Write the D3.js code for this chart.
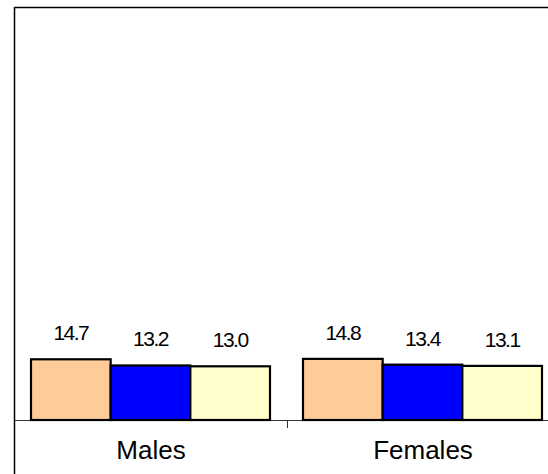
<!DOCTYPE html>
<html>
<head>
<meta charset="utf-8">
<script src="https://cdn.jsdelivr.net/npm/d3@7"></script>
<style>
  html, body { margin: 0; padding: 0; background: #fff; }
  svg { display: block; }
  text { font-family: Arial, "Liberation Sans", sans-serif; fill: #000; }
</style>
</head>
<body>
<svg id="chart" width="548" height="474"></svg>
<script>
// Categories and series
const categories = ["Males", "Females"];
const seriesNames = ["s1", "s2", "s3"];
const seriesColors = ["#FFCC99", "#0000FF", "#FFFFCC"];
const males = [14.7, 13.2, 13.0];
const females = [14.8, 13.4, 13.1];
const valueLabels = [["14.7", "13.2", "13.0"], ["14.8", "13.4", "13.1"]];
const valueDomain = [0, 100];

const rows = categories.map((c, i) => ({
  category: c,
  values: (i === 0 ? males : females).map((v, j) => ({ key: seriesNames[j], value: v, label: valueLabels[i][j] }))
}));

const svg = d3.select("#chart");

const plot = { left: 15, right: 559, top: 7, bottom: 420 };

const x0 = d3.scaleBand().domain(categories).range([plot.left, plot.right]).padding(0);
const x1 = d3.scaleBand().domain(seriesNames).range([16, x0.bandwidth() - 17]).padding(0);
const y = d3.scaleLinear().domain(valueDomain).range([plot.bottom, plot.top]);
const color = d3.scaleOrdinal().domain(seriesNames).range(seriesColors);

// Outer frame (top and left edges visible)
svg.append("line")
  .attr("x1", plot.left - 0.5).attr("x2", 548)
  .attr("y1", plot.top + 0.5).attr("y2", plot.top + 0.5)
  .attr("stroke", "#000").attr("stroke-width", 1.5);
svg.append("line")
  .attr("x1", plot.left - 0.5).attr("x2", plot.left - 0.5)
  .attr("y1", plot.top).attr("y2", 474)
  .attr("stroke", "#000").attr("stroke-width", 1.5);

// Category axis
const xAxis = d3.axisBottom(x0).tickSize(0).tickPadding(16);
const axisG = svg.append("g")
  .attr("transform", `translate(0,${plot.bottom})`)
  .call(xAxis);
axisG.select(".domain").remove();
axisG.selectAll("text")
  .attr("font-size", 26)
  .attr("font-family", "Arial, 'Liberation Sans', sans-serif")
  .attr("fill", "#000")
  .attr("dy", "0.9em");

svg.append("line")
  .attr("x1", plot.left).attr("x2", 548)
  .attr("y1", plot.bottom + 0.5).attr("y2", plot.bottom + 0.5)
  .attr("stroke", "#333").attr("stroke-width", 1);

// Separators between categories
svg.selectAll("line.sep")
  .data(categories.slice(1))
  .join("line")
  .attr("class", "sep")
  .attr("x1", d => Math.round(x0(d)) + 0.5)
  .attr("x2", d => Math.round(x0(d)) + 0.5)
  .attr("y1", plot.bottom)
  .attr("y2", plot.bottom + 8)
  .attr("stroke", "#333").attr("stroke-width", 1);

// Bars
const groups = svg.selectAll("g.group")
  .data(rows)
  .join("g")
  .attr("class", "group")
  .attr("transform", d => `translate(${x0(d.category)},0)`);

groups.selectAll("rect")
  .data(d => d.values)
  .join("rect")
  .attr("x", d => x1(d.key))
  .attr("width", x1.bandwidth())
  .attr("y", d => y(d.value))
  .attr("height", d => y(0) - y(d.value))
  .attr("fill", d => color(d.key))
  .attr("stroke", "#000")
  .attr("stroke-width", 2.2);

// Value labels
groups.selectAll("text.val")
  .data(d => d.values)
  .join("text")
  .attr("class", "val")
  .attr("x", d => x1(d.key) + x1.bandwidth() / 2)
  .attr("y", d => y(d.value) - 19)
  .attr("text-anchor", "middle")
  .attr("font-size", 21)
  .attr("letter-spacing", -1.5)
  .text(d => d.label);
</script>
</body>
</html>
